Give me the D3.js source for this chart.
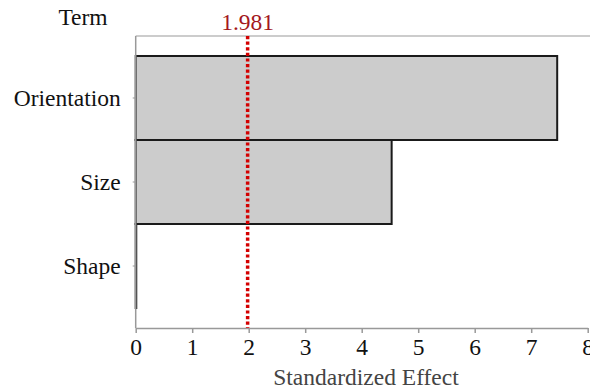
<!DOCTYPE html>
<html>
<head>
<meta charset="utf-8">
<script src="https://cdn.jsdelivr.net/npm/d3@7"></script>
<style>
  body { margin: 0; background: #fff; }
  svg text { font-family: "Liberation Serif", "DejaVu Serif", serif; }
</style>
</head>
<body>
<div id="chart"></div>
<script>
const terms = ['Orientation', 'Size', 'Shape'];
const effects = [7.46, 4.53, 0.01];
const xTicks = [0, 1, 2, 3, 4, 5, 6, 7, 8];
const critical = 1.981;

const width = 590;
const height = 390;
const margin = { top: 36, right: 2, bottom: 62, left: 135.7 };
const fontSize = 23.5;

const svg = d3.select('#chart')
  .append('svg')
  .attr('width', width)
  .attr('height', height);

const x = d3.scaleLinear()
  .domain([0, 8])
  .range([margin.left, margin.left + 8 * 56.5]);

const y = d3.scaleBand()
  .domain(terms)
  .range([margin.top, height - margin.bottom])
  .paddingInner(0)
  .paddingOuter(0.238);

// frame: top line
svg.append('line')
  .attr('x1', margin.left).attr('x2', width)
  .attr('y1', margin.top).attr('y2', margin.top)
  .attr('stroke', '#999').attr('stroke-width', 1);

// bars
svg.selectAll('rect.bar')
  .data(terms)
  .enter()
  .append('rect')
  .attr('class', 'bar')
  .attr('x', x(0))
  .attr('y', d => y(d))
  .attr('width', (d, i) => x(effects[i]) - x(0))
  .attr('height', y.bandwidth())
  .attr('fill', '#cccccc')
  .attr('stroke', '#1a1a1a')
  .attr('stroke-width', 2);

// x axis
const xAxis = svg.append('g')
  .attr('transform', `translate(0,${height - margin.bottom})`)
  .call(d3.axisBottom(x).tickValues(xTicks).tickSize(5).tickSizeOuter(0));
xAxis.attr('font-family', null);
xAxis.select('.domain').attr('stroke', '#999').attr('stroke-width', 1.5);
xAxis.selectAll('.tick line').attr('stroke', '#999').attr('stroke-width', 1.5);
xAxis.selectAll('.tick text')
  .attr('font-size', fontSize)
  .attr('fill', '#111')
  .attr('dy', '0.95em')
  .attr('y', 5);

// y axis
const yAxis = svg.append('g')
  .attr('transform', `translate(${margin.left},0)`)
  .call(d3.axisLeft(y).tickSize(3).tickPadding(12).tickSizeOuter(0));
yAxis.attr('font-family', null);
yAxis.select('.domain').attr('stroke', '#999').attr('stroke-width', 1.5)
  .attr('d', `M0,${margin.top}V${height - margin.bottom}`);
yAxis.selectAll('.tick line').attr('stroke', '#999');
yAxis.selectAll('.tick text')
  .attr('font-size', fontSize)
  .attr('fill', '#111');

// critical value line
svg.append('line')
  .attr('x1', x(critical)).attr('x2', x(critical))
  .attr('y1', margin.top).attr('y2', height - margin.bottom)
  .attr('stroke', '#d40000')
  .attr('stroke-width', 3.5)
  .attr('stroke-dasharray', '3.2,2.4');

svg.append('text')
  .attr('x', x(critical))
  .attr('y', 30)
  .attr('text-anchor', 'middle')
  .attr('font-size', fontSize)
  .attr('fill', '#a3171c')
  .text('1.981');

// titles
svg.append('text')
  .attr('x', 83)
  .attr('y', 25)
  .attr('text-anchor', 'middle')
  .attr('font-size', fontSize)
  .attr('fill', '#111')
  .text('Term');

svg.append('text')
  .attr('x', 366)
  .attr('y', 385)
  .attr('text-anchor', 'middle')
  .attr('font-size', fontSize)
  .attr('fill', '#444')
  .text('Standardized Effect');
</script>
</body>
</html>
